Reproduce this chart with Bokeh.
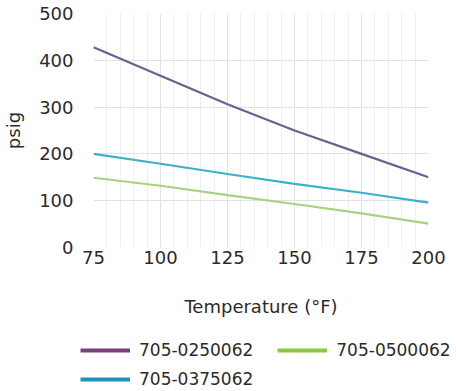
from bokeh.plotting import figure
from bokeh.models import Legend, LegendItem, Range1d, FixedTicker
from bokeh.embed import file_html
from bokeh.resources import INLINE

temps = [75, 100, 125, 150, 175, 200]
s_0250062 = [428, 367, 306, 250, 200, 150]
s_0375062 = [200, 179, 157, 136, 117, 96]
s_0500062 = [149, 132, 112, 93, 73, 51]
x_ticks = [75, 100, 125, 150, 175, 200]
y_ticks = [0, 100, 200, 300, 400, 500]
names = ["705-0250062", "705-0375062", "705-0500062"]
colors = ["#7B3F80", "#1E93BA", "#8DC63F"]
plot_colors = ["#6F5F8E", "#3BB2C8", "#ABD17F"]

FONT = "DejaVu Sans"
FS = "18px"
TXT = "#2b2b2b"
p = figure(width=450, height=322, output_backend="svg",
           toolbar_location=None, min_border_left=93, min_border_right=22,
           min_border_top=13, min_border_bottom=75,
           x_range=Range1d(75, 200), y_range=Range1d(0, 500))
p.outline_line_color = None
p.background_fill_color = "white"

r1 = p.line(temps, s_0250062, line_color=plot_colors[0], line_width=2.2)
r2 = p.line(temps, s_0375062, line_color=plot_colors[1], line_width=2.2)
r3 = p.line(temps, s_0500062, line_color=plot_colors[2], line_width=2.2)

p.xaxis.ticker = FixedTicker(ticks=x_ticks, minor_ticks=list(range(75, 201, 5)))
p.yaxis.ticker = FixedTicker(ticks=y_ticks)
for ax in (p.xaxis[0], p.yaxis[0]):
    ax.axis_line_color = None
    ax.major_tick_line_color = None
    ax.minor_tick_line_color = None
    ax.major_tick_out = 0
    ax.minor_tick_out = 0
    ax.major_label_text_font = FONT
    ax.major_label_text_font_size = FS
    ax.major_label_text_color = TXT
    ax.axis_label_text_font = FONT
    ax.axis_label_text_font_size = FS
    ax.axis_label_text_font_style = "normal"
    ax.axis_label_text_color = TXT
p.xaxis.axis_label = "Temperature (°F)"
p.yaxis.axis_label = "psig"
p.xaxis.major_label_standoff = 3
p.xaxis.axis_label_standoff = 29
p.yaxis.major_label_standoff = 20
p.yaxis.axis_label_standoff = 12

p.xgrid.grid_line_color = "#e2e2e2"
p.ygrid.grid_line_color = "#e2e2e2"
p.xgrid.minor_grid_line_color = "#efefef"

# separate strip for the legend (its lines lie outside this strip's ranges)
lg_fig = figure(width=456, height=68, output_backend="svg", toolbar_location=None,
                min_border_left=0, min_border_right=0, min_border_top=0,
                min_border_bottom=0, x_range=Range1d(0, 1), y_range=Range1d(0, 1))
lg_fig.axis.visible = False
lg_fig.grid.visible = False
lg_fig.outline_line_color = None
sw1 = lg_fig.line(temps, s_0250062, line_color=colors[0], line_width=4)
sw2 = lg_fig.line(temps, s_0375062, line_color=colors[1], line_width=4)
sw3 = lg_fig.line(temps, s_0500062, line_color=colors[2], line_width=4)

def make_legend(items, loc):
    lg = Legend(items=items, orientation="horizontal", location=loc)
    lg.border_line_color = None
    lg.background_fill_alpha = 0
    lg.label_text_font = FONT
    lg.label_text_font_size = "17px"
    lg.label_text_color = TXT
    lg.glyph_width = 50
    lg.glyph_height = 20
    lg.label_standoff = 9
    lg.spacing = 24
    lg.padding = 0
    lg.margin = 0
    return lg

leg1 = make_legend([LegendItem(label=names[0], renderers=[sw1]),
                    LegendItem(label=names[2], renderers=[sw3])], (80, 30))
leg2 = make_legend([LegendItem(label=names[1], renderers=[sw2])], (80, 1))
lg_fig.add_layout(leg1, "center")
lg_fig.add_layout(leg2, "center")

open("out.html", "w").write(file_html([p, lg_fig], INLINE))
